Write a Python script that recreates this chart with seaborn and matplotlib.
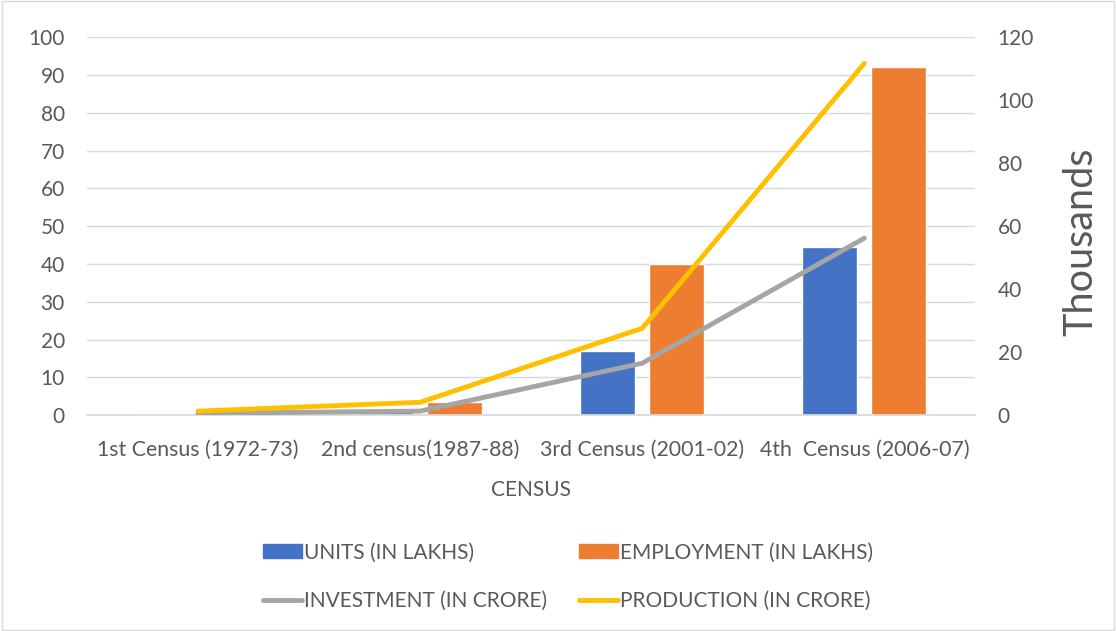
import matplotlib
matplotlib.use("Agg")
import matplotlib.pyplot as plt
import seaborn as sns
import numpy as np
import pandas as pd
from matplotlib.patches import Patch, Rectangle
from matplotlib.lines import Line2D

categories = ["1st Census (1972-73)", "2nd census(1987-88)", "3rd Census (2001-02)", "4th  Census (2006-07)"]
units = [0.4, 1.0, 17.0, 44.4]
employment = [1.0, 3.5, 40.0, 92.0]
investment = [0.6, 1.3, 16.5, 56.2]   # thousands (crore)
production = [1.3, 4.1, 27.6, 111.7]  # thousands (crore)

bar_names = ["UNITS (IN LAKHS)", "EMPLOYMENT (IN LAKHS)"]
line_names = ["INVESTMENT (IN CRORE)", "PRODUCTION (IN CRORE)"]

c_blue, c_orange, c_gray, c_yellow = "#4472C4", "#ED7D31", "#A5A5A5", "#FFC000"

sns.set_theme(style="white")
plt.rcParams['font.family'] = ['Lato', 'DejaVu Sans']

fig = plt.figure(figsize=(11.16, 6.31), dpi=100)
ax = fig.add_axes([0.078, 0.342, 0.796, 0.599])

df = pd.DataFrame({
    "cat": categories * 2,
    "val": units + employment,
    "series": [bar_names[0]] * 4 + [bar_names[1]] * 4,
})
sns.barplot(data=df, x="cat", y="val", hue="series", order=categories,
            hue_order=bar_names, palette=[c_blue, c_orange], width=0.62, gap=0.2,
            ax=ax, legend=False, saturation=1)
ax.set_ylim(0, 100)
ax.set_yticks(np.arange(0, 101, 10))
ax.set_xlim(-0.5, 3.5)
ax.grid(axis="y", color="#d9d9d9", linewidth=1)
ax.set_axisbelow(True)
for s in ax.spines.values():
    s.set_visible(False)
ax.spines["bottom"].set_visible(True)
ax.spines["bottom"].set_color("#d9d9d9")
ax.tick_params(axis="y", length=0, labelsize=15, colors="#595959", pad=16)
ax.tick_params(axis="x", length=0, labelsize=15.3, colors="#595959", pad=18)
ax.set_xlabel("CENSUS", fontsize=15, color="#595959", labelpad=14)
ax.set_ylabel("")

ax2 = ax.twinx()
pos = np.arange(len(categories))
sns.lineplot(x=pos, y=investment, color=c_gray, linewidth=3.5, ax=ax2)
sns.lineplot(x=pos, y=production, color=c_yellow, linewidth=3.5, ax=ax2)
ax2.set_ylim(0, 120)
ax2.set_yticks(np.arange(0, 121, 20))
ax2.set_xlim(-0.5, 3.5)
for s in ax2.spines.values():
    s.set_visible(False)
ax2.tick_params(axis="y", length=0, labelsize=15, colors="#595959", pad=16)
ax2.set_ylabel("Thousands", fontsize=28.5, color="#595959")
ax2.yaxis.set_label_coords(1.098, 0.458)
ax2.grid(False)

handles = [Patch(color=c_blue), Line2D([], [], color=c_gray, linewidth=3.5),
           Patch(color=c_orange), Line2D([], [], color=c_yellow, linewidth=3.5)]
labels = [bar_names[0], line_names[0], bar_names[1], line_names[1]]
fig.legend(handles, labels, ncol=2, loc="center", bbox_to_anchor=(0.509, 0.0864),
           frameon=False, fontsize=15, labelcolor="#595959", handlelength=1.9,
           handleheight=0.6, handletextpad=0.1, columnspacing=1.5, labelspacing=1.35)

fig.patches.append(Rectangle((0.002, 0.002), 0.996, 0.996, transform=fig.transFigure,
                             fill=False, edgecolor="#d9d9d9", linewidth=1))
fig.savefig("out.png", dpi=100, facecolor="white")
